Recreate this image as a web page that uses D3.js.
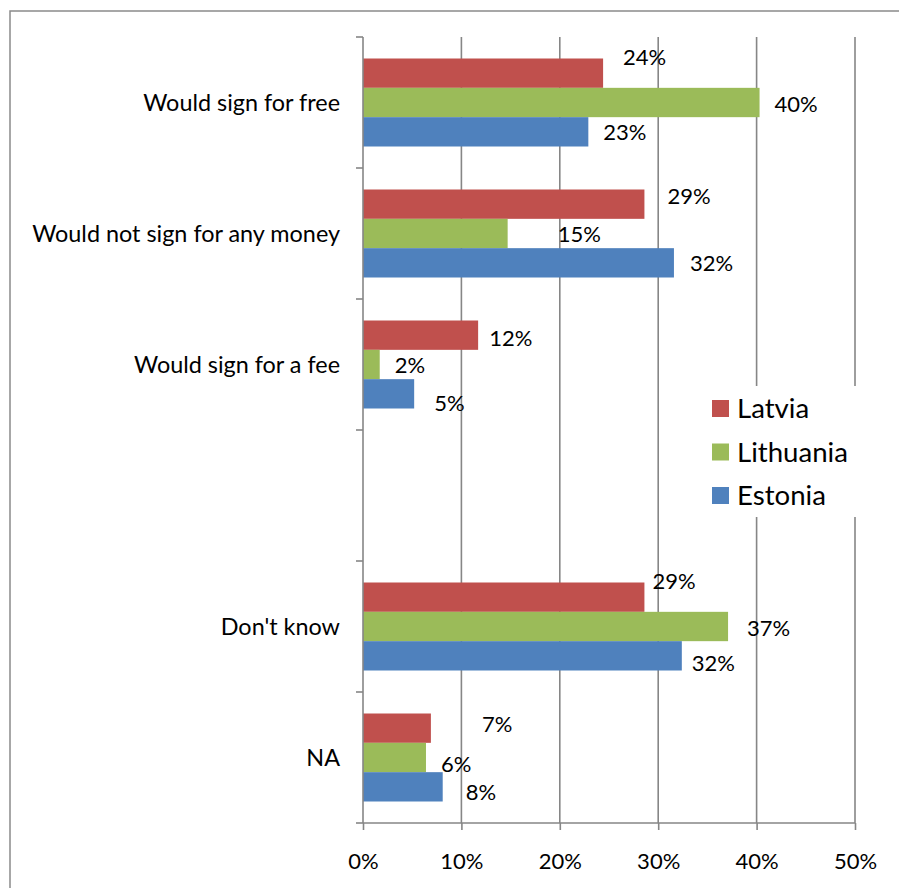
<!DOCTYPE html>
<html>
<head>
<meta charset="utf-8">
<script src="https://cdn.jsdelivr.net/npm/d3@7/dist/d3.min.js"></script>
<style>
  html, body { margin: 0; padding: 0; background: #fff; }
  svg { display: block; }
  text { font-family: Lato, "Open Sans", sans-serif; fill: #000; }
</style>
</head>
<body>
<svg id="chart" width="899" height="888"></svg>
<script>
// ---- data ----
const categories = ["Would sign for free", "Would not sign for any money", "Would sign for a fee", "", "Don't know", "NA"];
const seriesNames = ["Latvia", "Lithuania", "Estonia"];
const latvia    = [0.244, 0.286, 0.117, null, 0.286, 0.069];
const lithuania = [0.403, 0.147, 0.017, null, 0.371, 0.064];
const estonia   = [0.229, 0.316, 0.052, null, 0.324, 0.081];
const xTicks = [0, 0.1, 0.2, 0.3, 0.4, 0.5];

// label nudges (px) relative to bar end / bar centre, as placed in the original
const latviaNudge    = [[20,-15.5],[23,-7.5],[11,3],null,[8,-15.5],[51,-4]];
const lithuaniaNudge = [[15,1.5],[50,0.5],[15,1],null,[19,1.5],[15,7]];
const estoniaNudge   = [[15,0],[16,0.5],[20,9.5],null,[10,7.5],[23,5]];

const colors = ["#C0504D", "#9BBB59", "#4F81BD"];
const seriesValues = [latvia, lithuania, estonia];
const seriesNudges = [latviaNudge, lithuaniaNudge, estoniaNudge];

// ---- chart ----
const svg = d3.select("#chart");
const gridColor = "#868686";

// outer frame
svg.append("rect").attr("x", 10).attr("y", 11).attr("width", 940).attr("height", 940)
  .attr("fill", "#fff").attr("stroke", "#8a8a8a").attr("stroke-width", 1.5);

const x = d3.scaleLinear().domain([0, 0.5]).range([363, 855]);
const y = d3.scaleBand().domain(categories.map((c, i) => i)).range([37, 823]).padding(0);
const ys = d3.scaleBand().domain(d3.range(seriesNames.length)).range([0, y.bandwidth()])
  .paddingInner(0).paddingOuter(0.733);

// gridlines
svg.append("g").selectAll("line").data(xTicks.slice(1)).join("line")
  .attr("x1", d => x(d)).attr("x2", d => x(d))
  .attr("y1", 37).attr("y2", 823)
  .attr("stroke", gridColor).attr("stroke-width", 1.6);

// bars
const rows = [];
seriesValues.forEach((vals, s) => vals.forEach((v, i) => {
  if (v != null) rows.push({ s, i, v, nudge: seriesNudges[s][i] });
}));

svg.append("g").selectAll("rect").data(rows).join("rect")
  .attr("x", x(0))
  .attr("y", d => y(d.i) + ys(d.s))
  .attr("width", d => x(d.v) - x(0))
  .attr("height", ys.bandwidth())
  .attr("fill", d => colors[d.s]);

// x axis
const xAxis = d3.axisBottom(x).tickValues(xTicks).tickFormat(d3.format(".0%")).tickSize(7).tickPadding(23);
const gx = svg.append("g").attr("transform", "translate(0,823)").call(xAxis);
gx.select(".domain").attr("stroke", gridColor).attr("stroke-width", 1.6).attr("d", `M${x(0)},0H${x(0.5)}`);
gx.selectAll(".tick line").attr("stroke", gridColor).attr("stroke-width", 1.6);
gx.selectAll(".tick text").attr("font-family", "Lato").attr("font-size", 22).attr("fill", "#000");

// y axis
const yAxis = d3.scaleLinear().domain([0, categories.length]).range([37, 823]);
svg.append("line").attr("x1", x(0)).attr("x2", x(0)).attr("y1", 37).attr("y2", 823)
  .attr("stroke", gridColor).attr("stroke-width", 1.6);
svg.append("g").selectAll("line").data(d3.range(categories.length + 1)).join("line")
  .attr("x1", x(0) - 7).attr("x2", x(0))
  .attr("y1", d => yAxis(d)).attr("y2", d => yAxis(d))
  .attr("stroke", gridColor).attr("stroke-width", 1.6);

// category labels
svg.append("g").selectAll("text").data(categories).join("text")
  .attr("x", x(0) - 23)
  .attr("y", (d, i) => y(i) + y.bandwidth() / 2)
  .attr("dy", "0.35em")
  .attr("text-anchor", "end")
  .attr("font-size", 23.4)
  .text(d => d);

// data labels
svg.append("g").selectAll("text").data(rows).join("text")
  .attr("x", d => x(d.v) + d.nudge[0])
  .attr("y", d => y(d.i) + ys(d.s) + ys.bandwidth() / 2 + d.nudge[1])
  .attr("dy", "0.35em")
  .attr("font-size", 22)
  .text(d => d3.format(".0%")(d.v));

// legend
const lg = svg.append("g");
lg.append("rect").attr("x", 700).attr("y", 386).attr("width", 172).attr("height", 131).attr("fill", "#fff");
const items = lg.selectAll("g").data(seriesNames).join("g")
  .attr("transform", (d, i) => `translate(712,${408.5 + i * 43.5})`);
items.append("rect").attr("x", 0).attr("y", -8.5).attr("width", 17).attr("height", 17)
  .attr("fill", (d, i) => colors[i]);
items.append("text").attr("x", 25).attr("dy", "0.36em").attr("font-size", 27.6).text(d => d);
</script>
</body>
</html>
